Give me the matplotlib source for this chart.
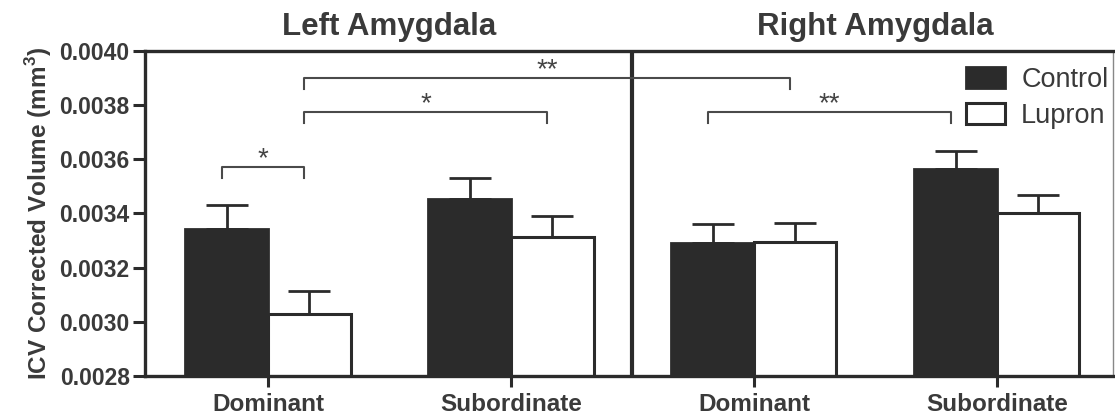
import numpy as np
import matplotlib
matplotlib.use("Agg")
import matplotlib.pyplot as plt
from matplotlib.patches import Patch

plt.rcParams['font.family'] = ['Liberation Sans', 'DejaVu Sans']
plt.rcParams['mathtext.fontset'] = 'custom'
plt.rcParams['mathtext.rm'] = 'Liberation Sans'
plt.rcParams['mathtext.bf'] = 'Liberation Sans:bold'

# values
categories = ['Dominant', 'Subordinate', 'Dominant', 'Subordinate']
panels = ['Left Amygdala', 'Right Amygdala']
control_mean = [0.003342, 0.003452, 0.003291, 0.003566]
control_sem = [0.000088, 0.000080, 0.000070, 0.000064]
lupron_mean = [0.003029, 0.003312, 0.003294, 0.003402]
lupron_sem = [0.000086, 0.000078, 0.000071, 0.000066]
yticks = [0.0028, 0.0030, 0.0032, 0.0034, 0.0036, 0.0038, 0.0040]

# significance brackets: (start category, start series, end category, end series, y, label)
brackets = [
    (0, 'C', 0, 'L', 0.003571, '*'),
    (0, 'L', 1, 'L', 0.003774, '*'),
    (0, 'L', 2, 'L', 0.003900, '**'),
    (2, 'C', 3, 'C', 0.003774, '**'),
]

dark = '#2b2b2b'
txt = '#3a3a3a'
w = 0.34
x = np.arange(len(categories))

fig = plt.figure(figsize=(11.15, 4.18), dpi=100)
ax = fig.add_axes([0.130, 0.1005, 0.868, 0.7775])

ax.bar(x - w / 2, control_mean, w, color=dark, edgecolor=dark, linewidth=2, zorder=2)
ax.bar(x + w / 2, lupron_mean, w, color='white', edgecolor=dark, linewidth=2.2, zorder=2)
ax.errorbar(x - w / 2, control_mean, yerr=[np.zeros(4), control_sem], fmt='none',
            ecolor=dark, elinewidth=2, capsize=15, capthick=2, zorder=3)
ax.errorbar(x + w / 2, lupron_mean, yerr=[np.zeros(4), lupron_sem], fmt='none',
            ecolor=dark, elinewidth=2, capsize=15, capthick=2, zorder=3)

ax.set_ylim(0.0028, 0.0040)
ax.set_xlim(-0.506, 3.477)
ax.set_yticks(yticks)
ax.set_yticklabels([f'{v:.4f}' for v in yticks], fontsize=16.5, fontweight='bold', color=txt)
ax.set_xticks(x)
ax.set_xticklabels(categories, fontsize=17.5, fontweight='bold', color=txt)
ax.tick_params(axis='y', length=9, width=2.2, color=dark, pad=2)
ax.tick_params(axis='x', length=8, width=2.2, color=dark, pad=4)
for side in ['left', 'bottom', 'top', 'right']:
    ax.spines[side].set_linewidth(2.4)
    ax.spines[side].set_color(dark)
ax.spines['right'].set_linewidth(1)
ax.spines['right'].set_color('#888888')
ax.axvline(1.5, color=dark, linewidth=3, zorder=4)

ax.set_ylabel(r'ICV Corrected Volume (mm$^{\mathbf{3}}$)', fontsize=17.5,
              fontweight='bold', color=txt, labelpad=4)

for i, name in enumerate(panels):
    ax.text(0.5 + 2 * i, 1.027, name, transform=ax.get_xaxis_transform(),
            ha='center', va='bottom', fontsize=22.5, fontweight='bold', color=txt)

off = {'C': -w / 2, 'L': w / 2}
for c0, s0, c1, s1, yb, lab in brackets:
    x0 = c0 + off[s0] - 0.02
    x1 = c1 + off[s1] - 0.02
    ax.plot([x0, x0, x1, x1], [yb - 0.00004, yb, yb, yb - 0.00004],
            color='#4a4a4a', linewidth=1.5, zorder=5, clip_on=False)
    ax.text((x0 + x1) / 2, yb + 0.00003, lab, ha='center', va='center',
            fontsize=20, color='#444444')

handles = [Patch(facecolor=dark, edgecolor=dark, linewidth=2),
           Patch(facecolor='white', edgecolor=dark, linewidth=2.2)]
ax.legend(handles, ['Control', 'Lupron'], loc='upper left', bbox_to_anchor=(0.848, 0.95),
          frameon=False, fontsize=19.5, handlelength=1.45, handleheight=0.8,
          handletextpad=0.6, labelspacing=0.35, borderpad=0, borderaxespad=0,
          labelcolor=txt)

fig.savefig('out.png', dpi=100)
